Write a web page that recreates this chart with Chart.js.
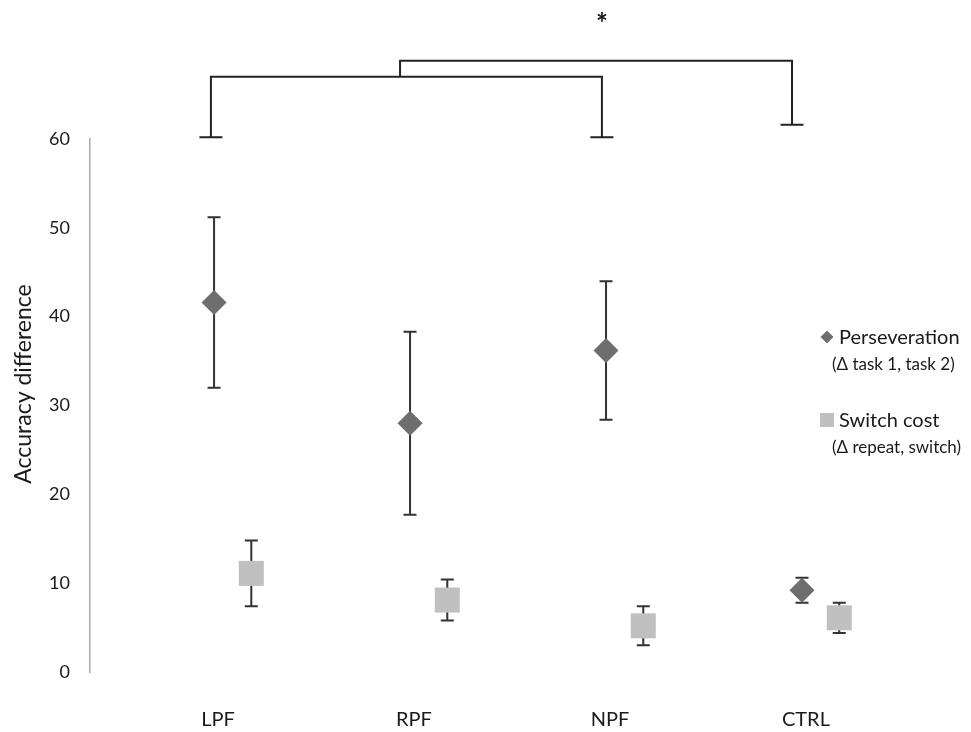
<!DOCTYPE html>
<html>
<head>
<meta charset="utf-8">
<title>Accuracy difference by group</title>
<script src="https://cdn.jsdelivr.net/npm/chart.js@4.4.1/dist/chart.umd.min.js"></script>
<style>
  html, body { margin: 0; padding: 0; background: #ffffff; }
  canvas { display: block; }
</style>
</head>
<body>
<canvas id="chart" width="971" height="732"></canvas>
<script>
// Groups and measured accuracy differences (mean and error)
const groups = ['LPF', 'RPF', 'NPF', 'CTRL'];
const perseveration = [41.6, 28.0, 36.2, 9.2];
const perseverationErr = [9.6, 10.3, 7.8, 1.4];
const switchCost = [11.1, 8.1, 5.2, 6.1];
const switchCostErr = [3.7, 2.3, 2.2, 1.7];
const yTicks = [0, 10, 20, 30, 40, 50, 60];

const FONT = 'Lato, "Open Sans", "DejaVu Sans", sans-serif';
const TEXT = '#1a1a1a';

// Draws vertical error bars with caps behind each marker
const errorBars = {
  id: 'errorBars',
  beforeDatasetsDraw(chart) {
    const { ctx } = chart;
    const y = chart.scales.y;
    chart.data.datasets.forEach((ds, di) => {
      const meta = chart.getDatasetMeta(di);
      ctx.save();
      ctx.strokeStyle = '#333333';
      ctx.lineWidth = 2;
      meta.data.forEach((pt, i) => {
        const v = ds.data[i].y, e = ds.errors[i];
        const top = y.getPixelForValue(v + e);
        const bot = y.getPixelForValue(v - e);
        const cap = 6.5;
        ctx.beginPath();
        ctx.moveTo(pt.x, top); ctx.lineTo(pt.x, bot);
        ctx.moveTo(pt.x - cap, top); ctx.lineTo(pt.x + cap, top);
        ctx.moveTo(pt.x - cap, bot); ctx.lineTo(pt.x + cap, bot);
        ctx.stroke();
      });
      ctx.restore();
    });
  }
};

// Significance bracket: LPF and NPF joined, compared with CTRL
const bracket = {
  id: 'bracket',
  afterDraw(chart, args, opts) {
    const { ctx } = chart;
    const x = chart.scales.x, y = chart.scales.y;
    const px = v => x.getPixelForValue(v);
    const py = v => y.getPixelForValue(v);
    const cap = 11.5;
    ctx.save();
    ctx.strokeStyle = '#222222';
    ctx.lineWidth = 2;
    ctx.lineCap = 'butt';
    const [a, b] = opts.pair;
    // lower bracket joining the pair
    ctx.beginPath();
    ctx.moveTo(px(a), py(opts.legBase));
    ctx.lineTo(px(a), py(opts.lower));
    ctx.lineTo(px(b), py(opts.lower));
    ctx.lineTo(px(b), py(opts.legBase));
    ctx.moveTo(px(a) - cap, py(opts.legBase)); ctx.lineTo(px(a) + cap, py(opts.legBase));
    ctx.moveTo(px(b) - cap, py(opts.legBase)); ctx.lineTo(px(b) + cap, py(opts.legBase));
    // upper bracket to the control group
    ctx.moveTo(px(opts.joint), py(opts.lower));
    ctx.lineTo(px(opts.joint), py(opts.upper));
    ctx.lineTo(px(opts.target), py(opts.upper));
    ctx.lineTo(px(opts.target), py(opts.targetBase));
    ctx.moveTo(px(opts.target) - cap, py(opts.targetBase));
    ctx.lineTo(px(opts.target) + cap, py(opts.targetBase));
    ctx.stroke();
    ctx.fillStyle = '#111111';
    ctx.font = 'bold 28px ' + FONT;
    ctx.textAlign = 'center';
    ctx.textBaseline = 'middle';
    ctx.fillText('*', px(b), py(opts.star) + 6);
    ctx.restore();
  }
};

// Rotated axis title and the two-line legend entries
const decorations = {
  id: 'decorations',
  afterDraw(chart) {
    const { ctx } = chart;
    const area = chart.chartArea;
    ctx.save();
    ctx.fillStyle = TEXT;
    ctx.font = '23px ' + FONT;
    ctx.textAlign = 'center';
    ctx.textBaseline = 'middle';
    ctx.translate(24, area.top + 245);
    ctx.rotate(-Math.PI / 2);
    ctx.fillText('Accuracy difference', 0, 0);
    ctx.restore();

    const lx = area.right - 93;
    const entries = [
      { ds: chart.data.datasets[0], y: area.top + 198, sub: '(\u0394 task 1, task 2)' },
      { ds: chart.data.datasets[1], y: area.top + 281, sub: '(\u0394 repeat, switch)' }
    ];
    ctx.save();
    entries.forEach(en => {
      ctx.fillStyle = en.ds.backgroundColor;
      ctx.beginPath();
      if (en.ds.pointStyle === 'rectRot') {
        const r = 6.5;
        ctx.moveTo(lx, en.y - r); ctx.lineTo(lx + r, en.y);
        ctx.lineTo(lx, en.y + r); ctx.lineTo(lx - r, en.y);
        ctx.closePath();
      } else {
        ctx.rect(lx - 7, en.y - 7, 14, 14);
      }
      ctx.fill();
      ctx.fillStyle = TEXT;
      ctx.textAlign = 'left';
      ctx.textBaseline = 'middle';
      ctx.font = '20px ' + FONT;
      ctx.fillText(en.ds.label, lx + 12, en.y + 1);
      ctx.font = '17px ' + FONT;
      ctx.fillText(en.sub, lx + 5, en.y + 28);
    });
    ctx.restore();
  }
};

const perseverationOffset = -0.02;
const switchOffset = 0.17;

new Chart(document.getElementById('chart'), {
  type: 'scatter',
  data: {
    datasets: [
      {
        label: 'Perseveration',
        data: perseveration.map((v, i) => ({ x: i + perseverationOffset, y: v })),
        errors: perseverationErr,
        pointStyle: 'rectRot',
        pointRadius: 12.5,
        pointHoverRadius: 12.5,
        backgroundColor: '#6e6e6e',
        borderWidth: 0
      },
      {
        label: 'Switch cost',
        data: switchCost.map((v, i) => ({ x: i + switchOffset, y: v })),
        errors: switchCostErr,
        pointStyle: 'rect',
        pointRadius: 17.7,
        pointHoverRadius: 17.7,
        backgroundColor: '#c0c0c0',
        borderWidth: 0
      }
    ]
  },
  options: {
    responsive: false,
    animation: false,
    devicePixelRatio: 1,
    layout: { padding: { top: 139, right: 51, bottom: 0, left: 0 } },
    plugins: {
      legend: { display: false },
      tooltip: { enabled: false },
      bracket: {
        pair: [-0.036, 1.959],
        joint: 0.929,
        target: 2.929,
        legBase: 60.2,
        targetBase: 61.6,
        lower: 67.0,
        upper: 68.8,
        star: 73.6
      }
    },
    scales: {
      x: {
        type: 'linear',
        min: -0.653,
        max: 3.582,
        grid: { display: false },
        border: { display: false },
        afterFit(scale) { scale.height = 60; },
        afterBuildTicks(scale) { scale.ticks = groups.map((_, i) => ({ value: i })); },
        ticks: {
          padding: 28,
          color: TEXT,
          font: { family: FONT, size: 20 },
          callback: v => groups[v]
        }
      },
      y: {
        min: 0,
        max: 60,
        grid: { display: false, drawTicks: false },
        border: { display: true, color: '#a8a8a8', width: 1.5 },
        afterFit(scale) { scale.width = 90; },
        afterBuildTicks(scale) { scale.ticks = yTicks.map(v => ({ value: v })); },
        ticks: {
          padding: 20,
          color: TEXT,
          font: { family: FONT, size: 18 }
        }
      }
    }
  },
  plugins: [errorBars, bracket, decorations]
});
</script>
</body>
</html>
